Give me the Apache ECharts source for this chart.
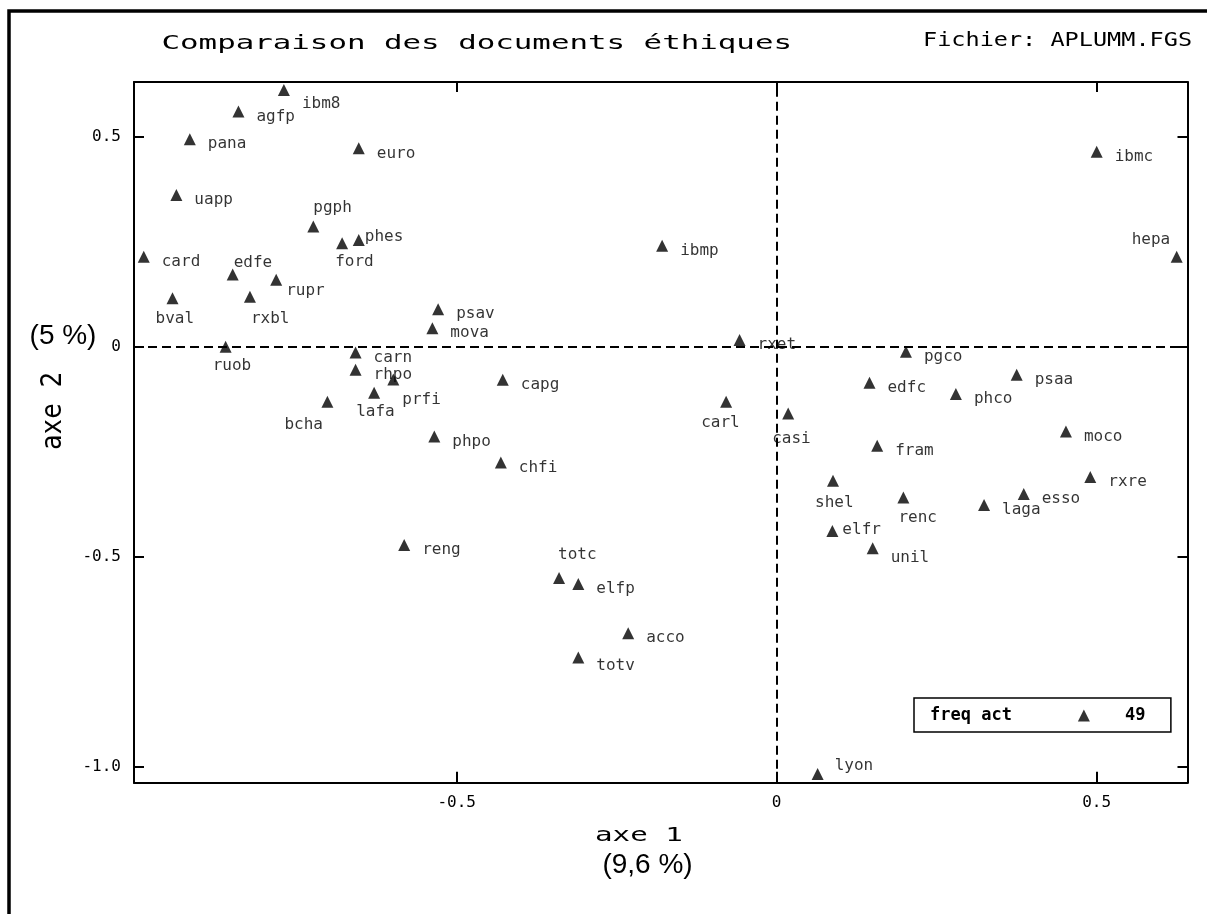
<!DOCTYPE html>
<html>
<head>
<meta charset="utf-8">
<script src="https://cdn.jsdelivr.net/npm/echarts@6/dist/echarts.min.js"></script>
<style>html,body{margin:0;padding:0;background:#fff;}#c{width:1207px;height:914px;}</style>
</head>
<body>
<div id="c"></div>
<script>
// ---- data ----
const names = ['ibm8','agfp','pana','euro','uapp','pgph','ford','phes','card','edfe',
  'rupr','bval','rxbl','psav','mova','ruob','carn','rhpo','prfi','lafa',
  'bcha','phpo','reng','ibmp','rxet','capg','carl','casi','chfi','shel',
  'elfr','totc','elfp','acco','totv','lyon','pgco','psaa','edfc','phco',
  'moco','fram','rxre','esso','renc','laga','unil','ibmc','hepa'];
const axe1 = [-0.770,-0.841,-0.917,-0.653,-0.938,-0.724,-0.679,-0.653,-0.989,-0.850,
  -0.782,-0.944,-0.823,-0.529,-0.538,-0.861,-0.658,-0.658,-0.599,-0.629,
  -0.702,-0.535,-0.582,-0.179,-0.058,-0.428,-0.079,0.018,-0.431,0.088,
  0.087,-0.340,-0.310,-0.232,-0.310,0.064,0.202,0.375,0.145,0.280,
  0.452,0.157,0.490,0.386,0.198,0.324,0.150,0.500,0.625];
const axe2 = [0.611,0.560,0.494,0.472,0.361,0.286,0.246,0.254,0.214,0.172,
  0.159,0.115,0.119,0.089,0.044,0.000,-0.014,-0.055,-0.078,-0.110,
  -0.131,-0.214,-0.472,0.240,0.016,-0.079,-0.131,-0.159,-0.276,-0.319,
  -0.439,-0.551,-0.565,-0.682,-0.740,-1.017,-0.012,-0.067,-0.086,-0.113,
  -0.202,-0.236,-0.310,-0.351,-0.359,-0.377,-0.480,0.464,0.214];
const xTicks = [-0.5, 0, 0.5];
const yTicks = [-1.0, -0.5, 0, 0.5];
const seriesName = 'freq act';

// ---- label placement (layout only) ----
const LABEL_DEFAULT = [18, 5];
const LABEL_OFFSET = {
  ibm8:[18,14], pgph:[0,-19], ford:[-7,19], phes:[6,-3], edfe:[1,-12], rupr:[10,11],
  bval:[-17,21], rxbl:[1,22], ruob:[-13,19], prfi:[9,20], lafa:[-18,19], bcha:[-43,23],
  carl:[-25,21], casi:[-16,25], shel:[-18,22], elfr:[10,-1], totc:[-1,-23], totv:[18,8],
  lyon:[17,-8], renc:[-5,20], unil:[18,10], hepa:[-45,-17]
};
const SYM = 12;

const MONO = '"DejaVu Sans Mono", "Liberation Mono", monospace';
const data = names.map((n, i) => {
  const o = LABEL_OFFSET[n] || LABEL_DEFAULT;
  return { name: n, value: [axe1[i], axe2[i]], label: { position: [o[0] + SYM / 2, o[1] + SYM / 2] } };
});

const fmt = v => (v === 0 ? '0' : v.toFixed(1));
const axisLineStyle = { show: true, onZero: false, lineStyle: { color: '#000', width: 2 } };
const X_MIN = -1.0042, X_MAX = 0.6419, Y_MIN = -1.038, Y_MAX = 0.630;

const chart = echarts.init(document.getElementById('c'), null, { renderer: 'canvas' });
chart.setOption({
  animation: false,
  backgroundColor: '#fff',
  grid: { left: 134, top: 82, width: 1053.5, height: 700.7, containLabel: false },
  xAxis: [
    { type: 'value', position: 'bottom', min: X_MIN, max: X_MAX,
      axisLine: axisLineStyle,
      axisTick: { show: true, inside: true, length: 11, customValues: xTicks, lineStyle: { color: '#000', width: 2 } },
      axisLabel: { customValues: xTicks, formatter: fmt, margin: 12, color: '#000', fontFamily: MONO, fontSize: 16 },
      splitLine: { show: false } },
    { type: 'value', position: 'top', min: X_MIN, max: X_MAX,
      axisLine: axisLineStyle,
      axisTick: { show: true, inside: true, length: 10, customValues: xTicks, lineStyle: { color: '#000', width: 2 } },
      axisLabel: { show: false }, splitLine: { show: false } }
  ],
  yAxis: [
    { type: 'value', position: 'left', min: Y_MIN, max: Y_MAX,
      axisLine: axisLineStyle,
      axisTick: { show: true, inside: true, length: 10, customValues: yTicks, lineStyle: { color: '#000', width: 2 } },
      axisLabel: { customValues: yTicks, formatter: fmt, margin: 13, color: '#000', fontFamily: MONO, fontSize: 16 },
      splitLine: { show: false } },
    { type: 'value', position: 'right', min: Y_MIN, max: Y_MAX,
      axisLine: axisLineStyle,
      axisTick: { show: true, inside: true, length: 10, customValues: yTicks, lineStyle: { color: '#000', width: 2 } },
      axisLabel: { show: false }, splitLine: { show: false } }
  ],
  legend: {
    data: [{ name: seriesName, icon: 'path://M6,0L12,12L0,12Z' }],
    left: 914, top: 698, orient: 'horizontal', align: 'right',
    padding: [9, 81, 8, 16], itemWidth: 134, itemHeight: 12, symbolKeepAspect: true,
    borderColor: '#000', borderWidth: 1.5, selectedMode: false,
    textStyle: { color: '#000', fontFamily: MONO, fontWeight: 'bold', fontSize: 17 }
  },
  graphic: [
    { type: 'rect', silent: true, z: 0, shape: { x: 9, y: 11, width: 1400, height: 1000 },
      style: { fill: 'none', stroke: '#000', lineWidth: 3.5 } },
    { type: 'text', x: 161.5, y: 44, scaleX: 1.54, z: 10,
      style: { text: 'Comparaison des documents éthiques', font: '20px ' + MONO, fill: '#000', align: 'left', verticalAlign: 'middle' } },
    { type: 'text', x: 923, y: 40.7, scaleX: 1.176, z: 10,
      style: { text: 'Fichier: APLUMM.FGS', font: '20px ' + MONO, fill: '#000', align: 'left', verticalAlign: 'middle' } },
    { type: 'text', x: 595, y: 835.7, scaleX: 1.46, z: 10,
      style: { text: 'axe 1', font: '20px ' + MONO, fill: '#000', align: 'left', verticalAlign: 'middle' } },
    { type: 'text', x: 647.5, y: 865, z: 10,
      style: { text: '(9,6 %)', font: '28px "Liberation Sans", Arial, sans-serif', fill: '#000', align: 'center', verticalAlign: 'middle' } },
    { type: 'text', x: 53.3, y: 411, rotation: Math.PI / 2, scaleX: 0.925, z: 10,
      style: { text: 'axe 2', font: '28px ' + MONO, fill: '#000', align: 'center', verticalAlign: 'middle' } },
    { type: 'text', x: 63, y: 336.5, z: 10,
      style: { text: '(5 %)', font: '28px "Liberation Sans", Arial, sans-serif', fill: '#000', align: 'center', verticalAlign: 'middle' } },
    { type: 'text', x: 1125, y: 715.5, z: 10,
      style: { text: String(names.length), font: 'bold 17px ' + MONO, fill: '#000', align: 'left', verticalAlign: 'middle' } }
  ],
  series: [{
    name: seriesName,
    type: 'scatter',
    symbol: 'triangle',
    symbolSize: SYM,
    itemStyle: { color: '#000' },
    z: 3,
    label: { show: true, formatter: '{b}', align: 'left', verticalAlign: 'middle', color: '#000', fontFamily: MONO, fontSize: 16 },
    emphasis: { disabled: true },
    data: data,
    markLine: {
      silent: true, symbol: 'none', z: 1, animation: false,
      label: { show: false },
      lineStyle: { color: '#000', type: [9, 5], width: 2 },
      data: [{ xAxis: 0 }, { yAxis: 0 }]
    }
  }]
});
</script>
</body>
</html>
